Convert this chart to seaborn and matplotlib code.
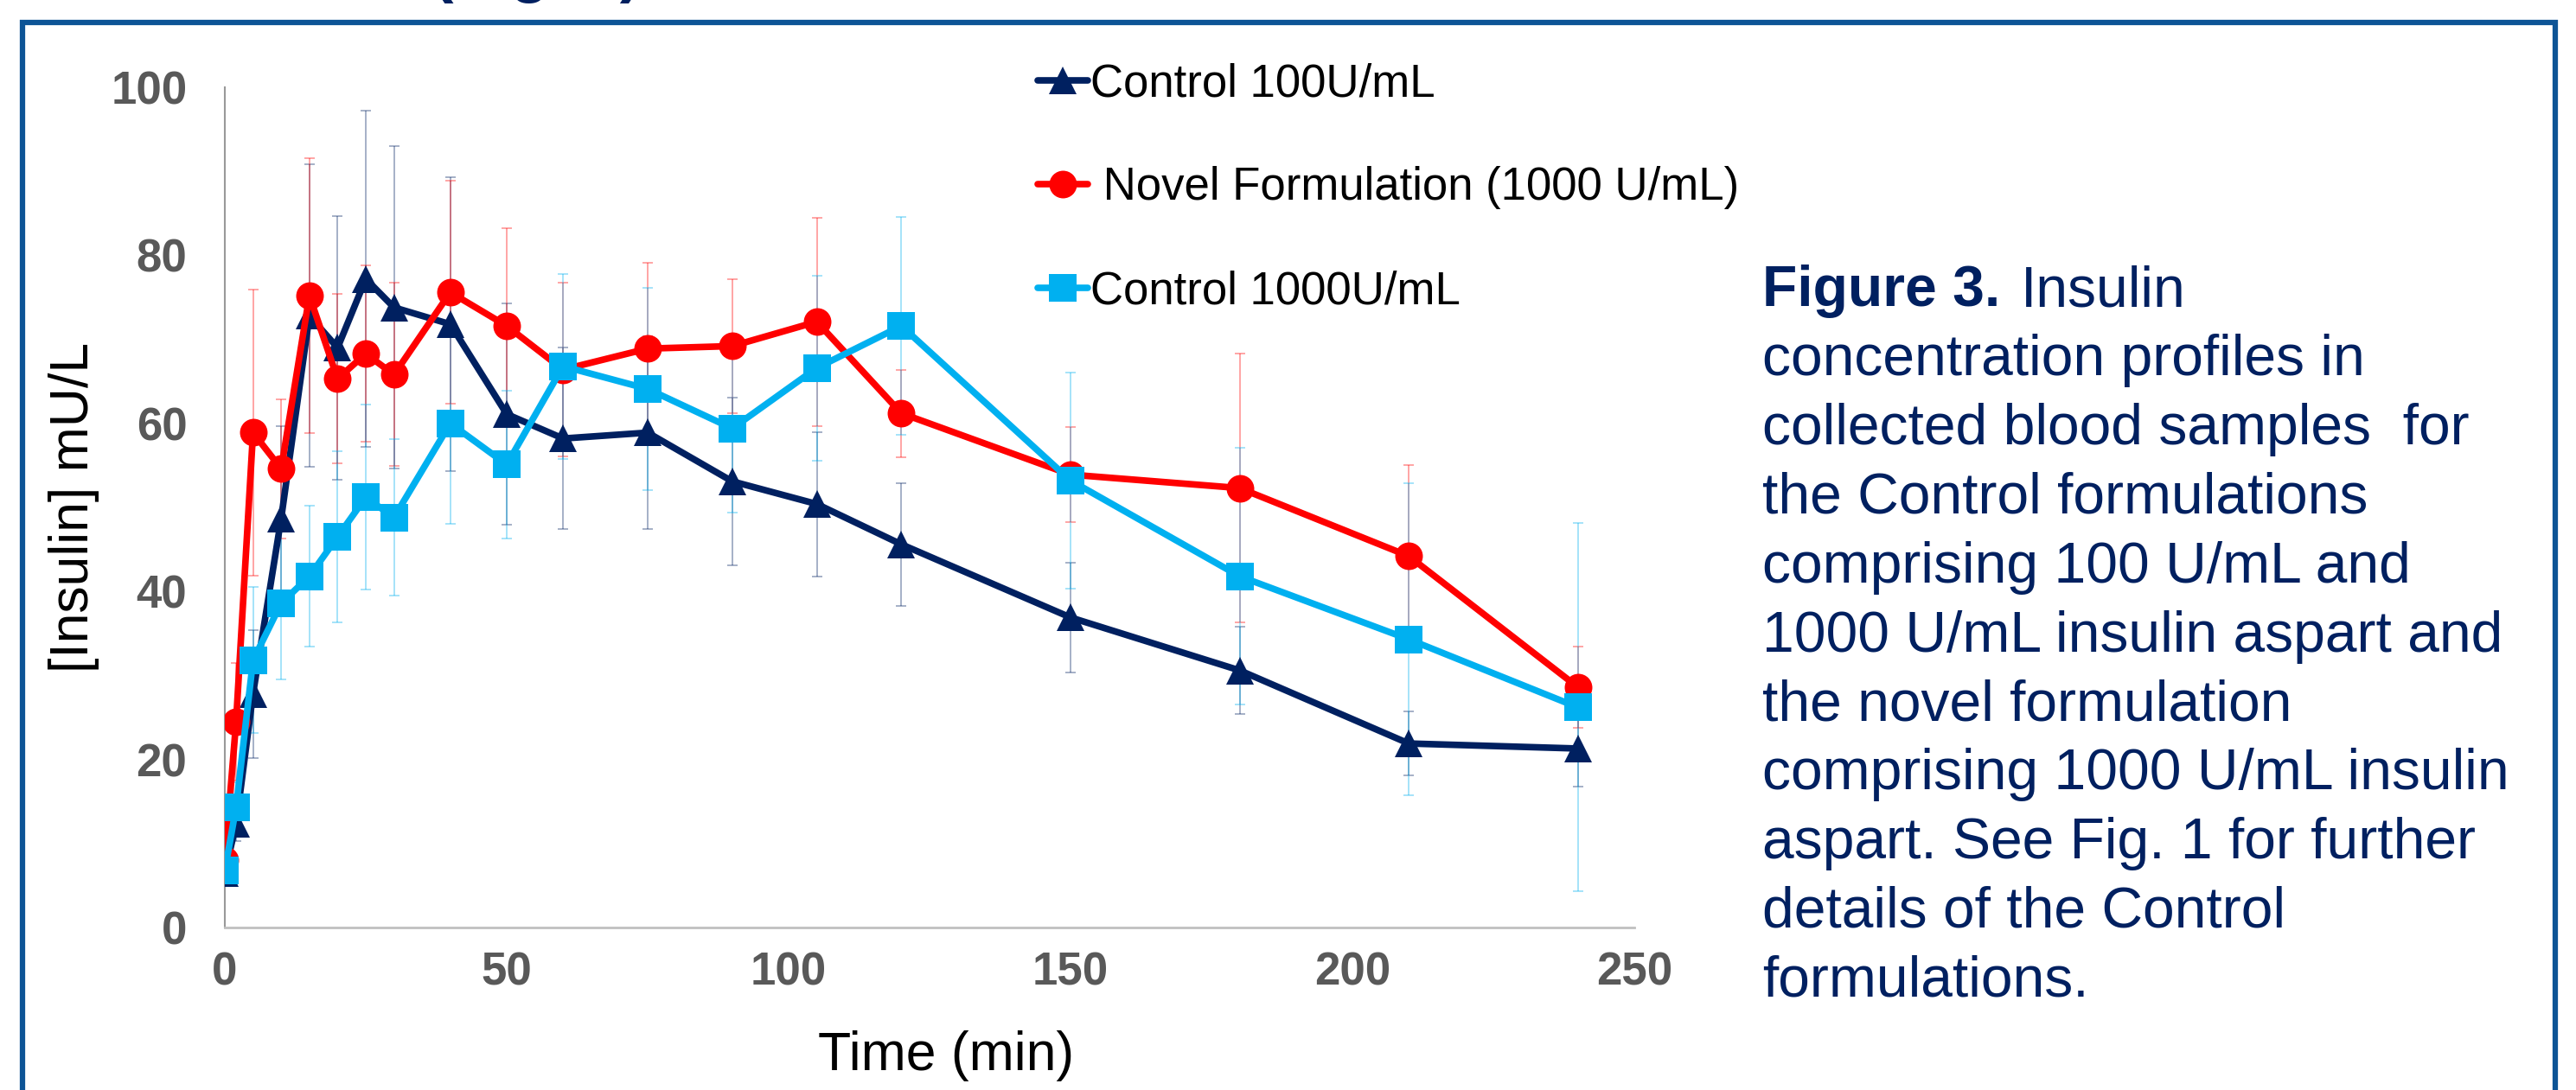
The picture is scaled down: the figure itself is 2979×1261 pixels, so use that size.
import numpy as np
import pandas as pd
import seaborn as sns
import matplotlib.pyplot as plt
from matplotlib.patches import Rectangle

sns.set_style('white')
plt.rcParams['font.family'] = ['Liberation Sans', 'DejaVu Sans']

### sampling times (min)
Time = [0, 2, 5, 10, 15, 20, 25, 30, 40, 50, 60, 75, 90, 105, 120, 150, 180, 210, 240]

### mean insulin (mU/L) and error bar half widths
Control100 = [6.5, 12.3, 27.8, 48.7, 72.8, 69.0, 77.2, 73.8, 71.8, 61.1, 58.2, 58.9, 53.1, 50.4, 45.6, 36.9, 30.6, 21.9, 21.3]
Control100Err = [1.0, 2.0, 7.6, 11.0, 18.0, 15.7, 20.0, 19.2, 17.5, 13.2, 10.8, 11.5, 10.0, 8.6, 7.3, 6.5, 5.2, 3.8, 4.5]

Novel1000 = [8.0, 24.5, 58.9, 54.6, 75.2, 65.3, 68.3, 65.8, 75.6, 71.6, 66.4, 68.9, 69.2, 72.1, 61.2, 53.9, 52.3, 44.2, 28.6]
Novel1000Err = [1.5, 7.0, 17.0, 8.3, 16.4, 10.1, 10.5, 10.9, 13.3, 11.6, 10.3, 10.2, 8.0, 12.4, 5.2, 5.7, 16.0, 10.8, 4.8]

Control1000 = [6.8, 14.3, 31.8, 38.6, 41.8, 46.5, 51.2, 48.8, 60.0, 55.1, 66.8, 64.1, 59.4, 66.6, 71.6, 53.2, 41.8, 34.3, 26.2]
Control1000Err = [1.0, 3.0, 8.7, 9.1, 8.4, 10.2, 11.0, 9.3, 12.0, 8.8, 11.0, 12.0, 10.0, 11.0, 13.0, 12.9, 15.3, 18.6, 21.9]

Labels = ['Control 100U/mL', ' Novel Formulation (1000 U/mL)', 'Control 1000U/mL']
Colours = ['#002060', '#FF0000', '#00B0F0']
Markers = ['^', 'o', 's']

XTicks = [0, 50, 100, 150, 200, 250]
YTicks = [0, 20, 40, 60, 80, 100]

Caption = ['concentration profiles in',
           'collected blood samples  for',
           'the Control formulations',
           'comprising 100 U/mL and',
           '1000 U/mL insulin aspart and',
           'the novel formulation',
           'comprising 1000 U/mL insulin',
           'aspart. See Fig. 1 for further',
           'details of the Control',
           'formulations.']

W, H = 2979, 1261
fig = plt.figure(figsize=(W / 100, H / 100), dpi=100)
ax = fig.add_axes([260 / W, 1 - 1073 / H, 1630 / W, 972 / H])

Means = [Control100, Novel1000, Control1000]
Errs = [Control100Err, Novel1000Err, Control1000Err]

### error bars first, lines and markers on top
for m, e, c in zip(Means, Errs, Colours):
    ax.errorbar(Time, m, yerr=e, fmt='none', ecolor=c, alpha=0.38,
                elinewidth=1.3, capsize=4.5, capthick=1.3, zorder=1)

for m, c, mk, lab in zip(Means, Colours, Markers, Labels):
    df = pd.DataFrame({'Time': Time, 'Insulin': m})
    sns.lineplot(data=df, x='Time', y='Insulin', ax=ax, color=c, marker=mk,
                 markersize=23, markeredgecolor=c, markeredgewidth=0,
                 linewidth=5.5, label=lab, zorder=3)

ax.set_xlim(0, 250)
ax.set_ylim(0, 100)
ax.set_xticks(XTicks)
ax.set_yticks(YTicks)
ax.tick_params(axis='both', which='major', labelsize=38, labelcolor='#595959',
               color='#999999', width=1.5, direction='out')
ax.tick_params(axis='y', length=11.5, pad=20)
ax.tick_params(axis='x', length=10, pad=10)
for lab in ax.get_xticklabels() + ax.get_yticklabels():
    lab.set_fontweight('bold')

for s in ['top', 'right']:
    ax.spines[s].set_visible(False)
ax.spines['left'].set_color('#999999')
ax.spines['left'].set_linewidth(1.5)
ax.spines['bottom'].set_color('#C0C0C0')
ax.spines['bottom'].set_linewidth(2)

ax.set_xlabel('Time (min)', fontsize=45, color='black')
ax.set_ylabel('[Insulin] mU/L', fontsize=45, color='black')
ax.xaxis.set_label_coords((1094 - 260) / 1630, -0.122)
ax.yaxis.set_label_coords(-0.089, 0.5)

ax.legend(loc='upper left', bbox_to_anchor=(1200 / W, 1 - 72 / H),
          bbox_transform=fig.transFigure, frameon=False, fontsize=38,
          handlelength=1.1, handletextpad=0.05, labelspacing=1.33,
          borderpad=0, borderaxespad=0, labelcolor='black')

### caption
navy = '#002060'
cx = 2038 / W
fig.text(cx, 1 - 354.5 / H, 'Figure 3.', fontsize=47.5, fontweight='bold',
         color=navy, va='baseline', ha='left')
fig.text(2337 / W, 1 - 354.5 / H, 'Insulin', fontsize=47.5, color=navy,
         va='baseline', ha='left')
for i, line in enumerate(Caption):
    fig.text(cx, 1 - (354.5 + (i + 1) * 79.8) / H, line, fontsize=47.5,
             color=navy, va='baseline', ha='left')

### cut off heading and poster frame
fig.text(500 / W, 1 + 11 / H, '(Fig. 3)', fontsize=53, fontweight='bold',
         color=navy, va='baseline', ha='left')
fig.add_artist(Rectangle((26 / W, -0.1), (2955 - 26) / W, 1.1 - 26.5 / H,
                         transform=fig.transFigure, fill=False,
                         edgecolor='#0D5496', linewidth=4.5, clip_on=False))

plt.savefig('out.png', dpi=100)
